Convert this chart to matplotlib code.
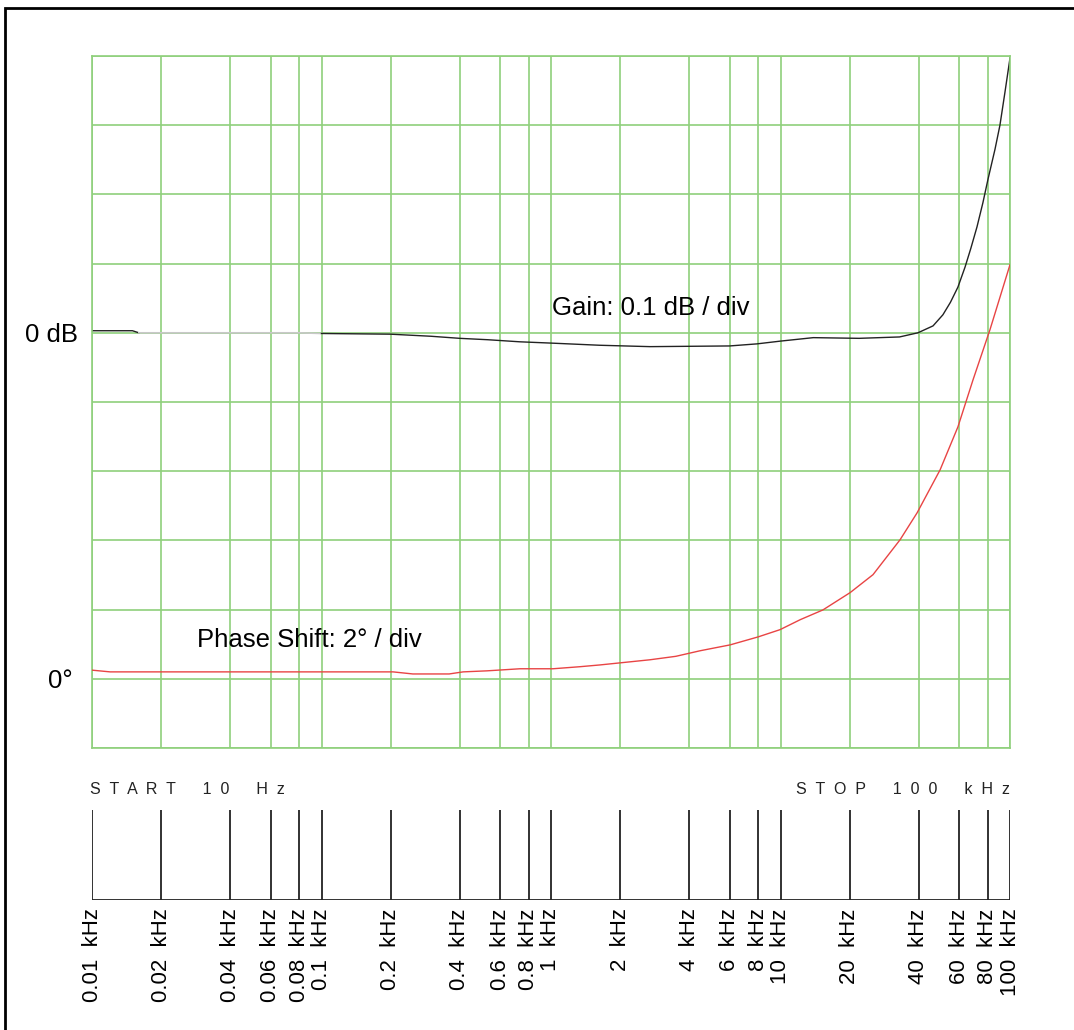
import matplotlib
matplotlib.use("Agg")
import matplotlib.pyplot as plt
from matplotlib.patches import Rectangle
import numpy as np

plt.rcParams['font.family'] = ['Liberation Sans', 'DejaVu Sans']

# Data
tick_hz = [10, 20, 40, 60, 80, 100, 200, 400, 600, 800, 1000, 2000, 4000,
           6000, 8000, 10000, 20000, 40000, 60000, 80000, 100000]
tick_text = ['0.01', '0.02', '0.04', '0.06', '0.08', '0.1', '0.2', '0.4',
             '0.6', '0.8', '1', '2', '4', '6', '8', '10', '20', '40', '60',
             '80', '100']

gain_hz = [10, 15, 16, 17, 40, 80, 100, 200, 300, 400, 530, 730, 1020, 1630,
           2700, 6000, 7900, 10000, 13900, 22000, 33000, 39700, 46200, 51000,
           55000, 59300, 63700, 67500, 71800, 76200, 80200, 86000, 90400,
           95000, 100000]
gain_db = [0.003, 0.003, 0.0, 0.0, 0.0, 0.0, -0.001, -0.002, -0.005, -0.008,
           -0.010, -0.013, -0.015, -0.018, -0.020, -0.019, -0.016, -0.012,
           -0.007, -0.008, -0.006, 0.0, 0.010, 0.026, 0.044, 0.066, 0.095,
           0.122, 0.153, 0.188, 0.222, 0.265, 0.300, 0.347, 0.397]

phase_hz = [10, 12, 205, 250, 360, 414, 526, 733, 1020, 1340, 1630, 2700,
            3500, 4460, 6030, 7980, 9950, 12200, 15300, 20100, 25300, 33200,
            39400, 49600, 59300, 69000, 81800, 100000]
phase_deg = [0.25, 0.2, 0.2, 0.14, 0.14, 0.2, 0.23, 0.29, 0.29, 0.35, 0.40,
             0.55, 0.65, 0.81, 0.98, 1.21, 1.42, 1.71, 1.99, 2.49, 3.01, 4.02,
             4.80, 6.04, 7.28, 8.64, 10.09, 11.97]

GRID = '#8fd07c'
W, H = 1074, 1030

fig = plt.figure(figsize=(W / 100, H / 100), dpi=100)

def fx(px):
    return px / W

def fy(py):
    return 1 - py / H

# main plot area
ax = fig.add_axes([fx(92), fy(748), fx(1010) - fx(92), fy(56) - fy(748)])
ax.set_xscale('log')
ax.set_xlim(10, 1e5)
ax.set_ylim(-0.6, 0.4)
ax.set_xticks(tick_hz)
ax.set_xticks([], minor=True)
ax.set_xticklabels([])
yt = np.round(np.arange(-0.6, 0.41, 0.1), 2)
ax.set_yticks(yt)
ax.set_yticklabels(['0 dB' if v == 0 else '' for v in yt], fontsize=18.5)
ax.tick_params(length=0, pad=10)
ax.grid(True, color=GRID, lw=1.2)
for s in ax.spines.values():
    s.set_color(GRID)
    s.set_linewidth(1.2)

f = np.array(gain_hz)
g = np.array(gain_db)
m1 = f <= 16
m2 = (f >= 16) & (f <= 100)
m3 = f >= 100
ax.plot(f[m1], g[m1], color='#222222', lw=1.0)
ax.plot(f[m2], g[m2], color='#c8c8c8', lw=1.2)
ax.plot(f[m3], g[m3], color='#222222', lw=1.0)

ax2 = ax.twinx()
ax2.set_ylim(-2, 18)
ax2.set_yticks([0])
ax2.set_yticklabels(['0°'], fontsize=18.5)
ax2.yaxis.set_ticks_position('left')
ax2.yaxis.set_label_position('left')
ax2.tick_params(length=0, pad=14)
for s in ax2.spines.values():
    s.set_visible(False)
ax2.plot(phase_hz, phase_deg, color='#e84444', lw=1.0)

fig.text(fx(552), fy(308), 'Gain: 0.1 dB / div', fontsize=18.5,
         ha='left', va='center')
fig.text(fx(197), fy(640), 'Phase Shift: 2° / div', fontsize=18.5,
         ha='left', va='center')

# frequency strip below
axs = fig.add_axes([fx(92), fy(900), fx(1010) - fx(92), fy(810) - fy(900)])
axs.set_xscale('log')
axs.set_xlim(10, 1e5)
axs.set_ylim(0, 1)
axs.vlines(tick_hz, 0, 1, color='#222222', lw=1.3)
axs.axhline(0, color='#222222', lw=1.3)
axs.set_yticks([])
axs.set_xticks(tick_hz)
axs.set_xticks([], minor=True)
axs.set_xticklabels([t + '  kHz' for t in tick_text], rotation=90,
                    fontsize=16)
axs.tick_params(length=0, pad=6)
for s in axs.spines.values():
    s.set_visible(False)

fig.text(fx(90), fy(790), 'S  T  A  R  T      1  0      H  z', fontsize=11.5,
         ha='left', va='center', color='#222222')
fig.text(fx(1010), fy(790), 'S  T  O  P      1  0  0      k  H  z',
         fontsize=11.5, ha='right', va='center', color='#222222')

# outer frame (only left and top edges fall inside the picture)
fig.add_artist(Rectangle((fx(5), -0.1), 1.2, fy(8) + 0.1,
                         transform=fig.transFigure, fill=False,
                         edgecolor='black', lw=2.0, clip_on=False))

fig.savefig('out.png', dpi=100)
